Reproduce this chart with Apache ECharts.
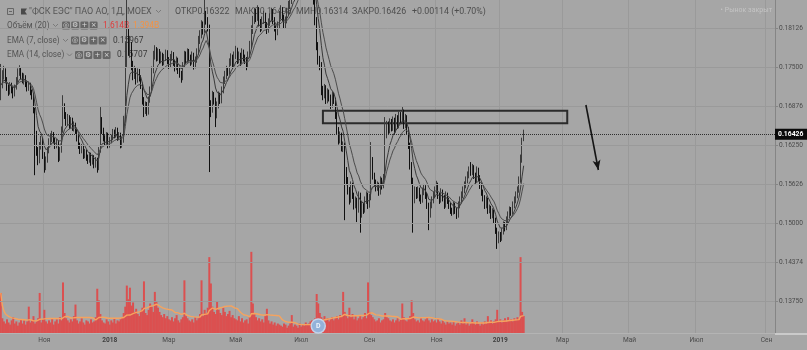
<!DOCTYPE html>
<html><head><meta charset="utf-8">
<script src="https://cdn.jsdelivr.net/npm/echarts@6.0.0/dist/echarts.min.js"></script>
<style>html,body{margin:0;padding:0;background:#a6a6a6}#c{width:807px;height:350px}</style>
</head><body><div id="c"></div><script>
// [open, close, low, high]
const candles = [
[.1705,.1721,.1697,.1755],[.1721,.1737,.1716,.1745],[.1737,.1742,.1730,.1752],[.1742,.1729,.1724,.1748],[.1729,.1717,.1712,.1734],
[.1717,.1710,.1704,.1722],[.1710,.1720,.1706,.1726],[.1720,.1713,.1708,.1725],[.1713,.1707,.1700,.1718],[.1707,.1717,.1703,.1722],
[.1717,.1729,.1714,.1734],[.1729,.1742,.1725,.1748],[.1742,.1745,.1736,.1753],[.1745,.1736,.1731,.1750],[.1736,.1729,.1724,.1741],
[.1729,.1733,.1722,.1740],[.1733,.1723,.1718,.1737],[.1723,.1717,.1711,.1728],[.1717,.1721,.1712,.1727],[.1721,.1710,.1705,.1725],
[.1710,.1704,.1698,.1714],[.1704,.1681,.1676,.1708],[.1681,.1641,.1577,.1685],[.1641,.1617,.1608,.1648],[.1617,.1601,.1593,.1622],
[.1601,.1625,.1596,.1630],[.1625,.1633,.1618,.1640],[.1633,.1609,.1603,.1637],[.1609,.1589,.1581,.1614],[.1589,.1601,.1585,.1607],
[.1601,.1617,.1597,.1622],[.1617,.1630,.1612,.1636],[.1630,.1637,.1624,.1644],[.1637,.1641,.1630,.1648],[.1641,.1633,.1628,.1646],
[.1633,.1625,.1619,.1637],[.1625,.1630,.1620,.1635],[.1630,.1605,.1598,.1633],[.1605,.1617,.1600,.1622],[.1617,.1649,.1613,.1655],
[.1649,.1685,.1645,.1705],[.1685,.1673,.1667,.1692],[.1673,.1662,.1656,.1678],[.1662,.1669,.1657,.1675],[.1669,.1657,.1651,.1673],
[.1657,.1665,.1652,.1670],[.1665,.1653,.1648,.1669],[.1653,.1657,.1647,.1663],[.1657,.1649,.1643,.1661],[.1649,.1637,.1631,.1653],
[.1637,.1625,.1619,.1641],[.1625,.1617,.1611,.1629],[.1617,.1621,.1612,.1627],[.1621,.1609,.1603,.1625],[.1609,.1614,.1604,.1619],
[.1614,.1605,.1600,.1618],[.1605,.1601,.1595,.1610],[.1601,.1609,.1597,.1614],[.1609,.1598,.1592,.1613],[.1598,.1605,.1594,.1610],
[.1605,.1593,.1588,.1609],[.1593,.1601,.1589,.1606],[.1601,.1589,.1581,.1605],[.1589,.1617,.1585,.1622],[.1617,.1665,.1613,.1686],
[.1665,.1649,.1643,.1670],[.1649,.1637,.1631,.1653],[.1637,.1630,.1624,.1641],[.1630,.1641,.1626,.1646],[.1641,.1625,.1620,.1645],
[.1625,.1633,.1621,.1638],[.1633,.1637,.1628,.1642],[.1637,.1646,.1633,.1651],[.1646,.1641,.1636,.1650],[.1641,.1649,.1637,.1654],
[.1649,.1637,.1632,.1653],[.1637,.1641,.1633,.1646],[.1641,.1625,.1620,.1645],[.1625,.1633,.1621,.1638],[.1633,.1665,.1629,.1672],
[.1665,.1761,.1661,.1790],[.1761,.1801,.1750,.1865],[.1801,.1777,.1768,.1812],[.1777,.1785,.1765,.1800],[.1785,.1753,.1745,.1790],
[.1753,.1737,.1729,.1760],[.1737,.1745,.1731,.1752],[.1745,.1729,.1722,.1750],[.1729,.1742,.1725,.1748],[.1742,.1733,.1727,.1747],
[.1733,.1721,.1715,.1737],[.1721,.1697,.1690,.1725],[.1697,.1681,.1670,.1702],[.1681,.1689,.1675,.1695],[.1689,.1678,.1672,.1694],
[.1678,.1697,.1674,.1703],[.1697,.1713,.1693,.1719],[.1713,.1745,.1709,.1751],[.1745,.1769,.1740,.1776],[.1769,.1777,.1762,.1785],
[.1777,.1765,.1759,.1782],[.1765,.1774,.1760,.1780],[.1774,.1761,.1755,.1779],[.1761,.1769,.1756,.1775],[.1769,.1758,.1752,.1773],
[.1758,.1765,.1753,.1771],[.1765,.1772,.1760,.1778],[.1772,.1761,.1755,.1777],[.1761,.1753,.1747,.1766],[.1753,.1766,.1749,.1771],
[.1766,.1769,.1760,.1776],[.1769,.1758,.1752,.1774],[.1758,.1749,.1743,.1762],[.1749,.1761,.1745,.1767],[.1761,.1745,.1739,.1765],
[.1745,.1739,.1733,.1750],[.1739,.1733,.1725,.1744],[.1733,.1753,.1729,.1758],[.1753,.1769,.1749,.1776],[.1769,.1761,.1755,.1775],
[.1761,.1774,.1757,.1780],[.1774,.1765,.1759,.1779],[.1765,.1758,.1752,.1770],[.1758,.1769,.1754,.1775],[.1769,.1752,.1746,.1773],
[.1752,.1761,.1748,.1767],[.1761,.1774,.1757,.1780],[.1774,.1793,.1770,.1800],[.1793,.1801,.1787,.1809],[.1801,.1817,.1796,.1825],
[.1817,.1809,.1802,.1823],[.1809,.1833,.1805,.1861],[.1833,.1825,.1818,.1840],[.1825,.1813,.1807,.1830],[.1813,.1689,.1582,.1818],
[.1689,.1681,.1670,.1697],[.1681,.1705,.1677,.1712],[.1705,.1697,.1690,.1710],[.1697,.1673,.1654,.1701],[.1673,.1689,.1668,.1695],
[.1689,.1705,.1684,.1711],[.1705,.1697,.1691,.1709],[.1697,.1713,.1692,.1719],[.1713,.1729,.1708,.1735],[.1729,.1737,.1723,.1744],
[.1737,.1745,.1731,.1752],[.1745,.1742,.1736,.1750],[.1742,.1758,.1738,.1764],[.1758,.1765,.1752,.1772],[.1765,.1753,.1747,.1770],
[.1753,.1769,.1749,.1775],[.1769,.1777,.1763,.1784],[.1777,.1761,.1755,.1781],[.1761,.1769,.1756,.1775],[.1769,.1758,.1752,.1773],
[.1758,.1774,.1754,.1780],[.1774,.1765,.1759,.1778],[.1765,.1761,.1755,.1770],[.1761,.1753,.1745,.1766],[.1753,.1769,.1749,.1775],
[.1769,.1785,.1765,.1792],[.1785,.1809,.1780,.1817],[.1809,.1825,.1803,.1832],[.1825,.1838,.1819,.1845],[.1838,.1829,.1822,.1843],
[.1829,.1841,.1824,.1849],[.1841,.1822,.1815,.1846],[.1822,.1813,.1806,.1827],[.1813,.1825,.1808,.1831],[.1825,.1833,.1819,.1840],
[.1833,.1817,.1811,.1837],[.1817,.1809,.1803,.1822],[.1809,.1822,.1805,.1828],[.1822,.1829,.1816,.1836],[.1829,.1838,.1823,.1845],
[.1838,.1825,.1819,.1843],[.1825,.1813,.1807,.1830],[.1813,.1806,.1793,.1818],[.1806,.1817,.1801,.1823],[.1817,.1833,.1812,.1840],
[.1833,.1841,.1827,.1849],[.1841,.1829,.1823,.1846],[.1829,.1817,.1811,.1834],[.1817,.1825,.1812,.1831],[.1825,.1838,.1820,.1845],
[.1838,.1849,.1833,.1856],[.1849,.1857,.1843,.1865],[.1857,.1865,.1851,.1872],[.1865,.1877,.1859,.1884],[.1877,.1870,.1863,.1882],
[.1870,.1886,.1865,.1893],[.1886,.1897,.1880,.1905],[.1897,.1889,.1882,.1902],[.1889,.1905,.1884,.1912],[.1905,.1913,.1899,.1921],
[.1913,.1902,.1895,.1918],[.1902,.1918,.1897,.1926],[.1918,.1909,.1902,.1923],[.1909,.1897,.1890,.1914],[.1897,.1905,.1891,.1911],
[.1905,.1881,.1874,.1909],[.1881,.1857,.1850,.1886],[.1857,.1825,.1817,.1862],[.1825,.1785,.1777,.1830],[.1785,.1761,.1754,.1790],
[.1761,.1753,.1745,.1768],[.1753,.1713,.1705,.1758],[.1713,.1705,.1697,.1720],[.1705,.1717,.1700,.1723],[.1717,.1697,.1691,.1721],
[.1697,.1710,.1692,.1716],[.1710,.1701,.1695,.1714],[.1701,.1689,.1683,.1706],[.1689,.1705,.1685,.1711],[.1705,.1697,.1691,.1709],
[.1697,.1673,.1667,.1701],[.1673,.1649,.1643,.1678],[.1649,.1633,.1626,.1654],[.1633,.1641,.1628,.1647],[.1641,.1621,.1615,.1645],
[.1621,.1625,.1614,.1631],[.1625,.1585,.1505,.1629],[.1585,.1569,.1561,.1590],[.1569,.1553,.1546,.1574],[.1553,.1537,.1530,.1558],
[.1537,.1561,.1533,.1567],[.1561,.1545,.1539,.1565],[.1545,.1529,.1522,.1549],[.1529,.1537,.1524,.1543],[.1537,.1521,.1502,.1541],
[.1521,.1545,.1517,.1551],[.1545,.1513,.1485,.1549],[.1513,.1529,.1509,.1535],[.1529,.1521,.1515,.1533],[.1521,.1537,.1517,.1543],
[.1537,.1545,.1531,.1551],[.1545,.1529,.1523,.1549],[.1529,.1541,.1525,.1547],[.1541,.1601,.1537,.1630],[.1601,.1577,.1570,.1606],
[.1577,.1566,.1560,.1581],[.1566,.1557,.1551,.1570],[.1557,.1561,.1552,.1567],[.1561,.1550,.1544,.1565],[.1550,.1569,.1546,.1575],
[.1569,.1560,.1554,.1573],[.1560,.1573,.1556,.1579],[.1573,.1641,.1569,.1670],[.1641,.1657,.1636,.1664],[.1657,.1649,.1643,.1663],
[.1649,.1662,.1644,.1668],[.1662,.1653,.1647,.1667],[.1653,.1665,.1648,.1671],[.1665,.1649,.1643,.1669],[.1649,.1669,.1645,.1675],
[.1669,.1657,.1651,.1673],[.1657,.1673,.1652,.1679],[.1673,.1665,.1659,.1678],[.1665,.1678,.1660,.1686],[.1678,.1657,.1651,.1682],
[.1657,.1669,.1652,.1675],[.1669,.1649,.1643,.1673],[.1649,.1625,.1619,.1654],[.1625,.1593,.1586,.1629],[.1593,.1569,.1562,.1598],
[.1569,.1537,.1485,.1573],[.1537,.1553,.1532,.1559],[.1553,.1545,.1539,.1558],[.1545,.1553,.1540,.1559],[.1553,.1541,.1535,.1557],
[.1541,.1537,.1531,.1546],[.1537,.1550,.1533,.1556],[.1550,.1557,.1545,.1563],[.1557,.1545,.1539,.1561],[.1545,.1529,.1523,.1549],
[.1529,.1513,.1489,.1533],[.1513,.1529,.1509,.1535],[.1529,.1537,.1524,.1543],[.1537,.1545,.1532,.1551],[.1545,.1553,.1540,.1559],
[.1553,.1561,.1548,.1568],[.1561,.1545,.1539,.1565],[.1545,.1537,.1531,.1549],[.1537,.1550,.1533,.1556],[.1550,.1541,.1535,.1554],
[.1541,.1529,.1523,.1545],[.1529,.1545,.1525,.1551],[.1545,.1537,.1531,.1549],[.1537,.1529,.1523,.1541],[.1529,.1521,.1515,.1533],
[.1521,.1518,.1512,.1525],[.1518,.1529,.1514,.1535],[.1529,.1521,.1515,.1533],[.1521,.1513,.1507,.1525],[.1513,.1529,.1509,.1535],
[.1529,.1537,.1524,.1543],[.1537,.1545,.1532,.1551],[.1545,.1553,.1540,.1559],[.1553,.1561,.1548,.1567],[.1561,.1569,.1556,.1575],
[.1569,.1577,.1564,.1583],[.1577,.1585,.1572,.1591],[.1585,.1582,.1576,.1598],[.1582,.1589,.1577,.1595],[.1589,.1577,.1571,.1593],
[.1577,.1569,.1563,.1581],[.1569,.1585,.1565,.1591],[.1585,.1573,.1567,.1589],[.1573,.1561,.1555,.1577],[.1561,.1550,.1544,.1565],
[.1550,.1541,.1535,.1554],[.1541,.1529,.1523,.1545],[.1529,.1537,.1524,.1543],[.1537,.1521,.1515,.1541],[.1521,.1524,.1516,.1530],
[.1524,.1513,.1507,.1528],[.1513,.1518,.1508,.1524],[.1518,.1505,.1499,.1522],[.1505,.1489,.1483,.1509],[.1489,.1473,.1459,.1493],
[.1473,.1481,.1468,.1487],[.1481,.1476,.1470,.1486],[.1476,.1486,.1472,.1492],[.1486,.1497,.1482,.1503],[.1497,.1493,.1487,.1502],
[.1493,.1505,.1489,.1511],[.1505,.1513,.1500,.1519],[.1513,.1521,.1508,.1527],[.1521,.1518,.1512,.1526],[.1518,.1529,.1514,.1535],
[.1529,.1537,.1524,.1543],[.1537,.1545,.1532,.1551],[.1545,.1553,.1540,.1559],[.1553,.1569,.1549,.1575],[.1569,.1601,.1565,.1610],
[.1601,.16312,.1597,.1637],[.16322,.16426,.16314,.16498]
];
// volume, millions
const volumes = [
3800,1400,1100,900,1300,1000,800,1200,1500,900,1100,700,1000,1300,900,1200,800,1100,2500,1000,
1200,1600,900,1100,1400,3800,1000,1300,2200,1100,900,1200,1000,1400,800,1100,1300,900,1500,1200,
4800,1900,1400,1200,1000,1300,1100,1600,2700,1200,900,1100,1400,1000,800,1200,1100,900,1300,1000,
1100,1500,4200,3100,1800,1200,1000,900,1300,1100,800,1200,1000,1400,900,1200,1100,1300,1500,1900,
2500,4500,3200,4300,2600,2900,2000,2300,1800,1600,2100,2400,4900,1900,1700,2200,2800,2500,2000,3900,
3000,2400,2000,1700,1500,1800,1400,1600,1300,1200,1500,1100,1400,1700,1200,1000,1300,1500,5000,1600,
1400,1200,1100,1300,1000,1500,1200,1400,1800,5000,1600,2200,1900,2400,7200,4700,2500,2000,1800,3000,
2200,1900,1700,2400,2000,1600,1800,2100,1500,1700,1400,1300,1200,1600,1100,1400,1000,1200,1300,900,
1500,7700,2800,1800,1500,1200,1400,1100,1300,1000,1600,2300,1200,900,1100,800,1000,700,900,800,
700,600,900,800,500,700,900,1700,600,800,700,500,900,600,800,700,1000,800,900,1100,
1200,1000,1400,3700,2800,1900,1500,1300,1600,1200,1400,1100,1300,1500,1200,1400,1600,1300,1700,1500,
3900,2000,1600,1400,2400,1500,1800,1300,1600,1200,1400,1700,1300,1500,1900,1400,4800,2000,1700,1500,
1300,1100,1200,1400,1000,1200,1300,1900,1500,1400,1200,1100,1300,1000,1200,1400,1100,1300,2800,1500,
1200,1100,1400,1600,3100,1900,1300,1100,1200,1000,1400,1200,1100,1300,1500,1200,1000,1300,1100,1200,
1000,1300,1100,900,1200,1000,800,1100,900,1000,800,1100,700,900,1000,800,1200,900,1400,800,
1000,700,900,1300,1000,800,1100,900,700,1000,800,1100,900,1600,1000,1200,900,1100,1300,2200,
1100,1300,1000,1200,1400,1100,1500,1200,1300,1100,1400,1200,1500,1300,7200,2000,1614
];
const totalSlots = 498;
const monthTickIndex = [28,70,108,151,193,237,280,321,361,404,447,492];
const monthTickLabel = ['Ноя','2018','Мар','Май','Июл','Сен','Ноя','2019','Мар','Май','Июл','Сен'];
const priceTickLabels = ['0.13750','0.14374','0.15000','0.15626','0.16250','0.16876','0.17500','0.18126'];
const lastPriceLabel = '0.16426';
const zoneBox = [207, 364, 0.16802, 0.16601];
const arrowPoints = [[376, 0.16893], [384, 0.15853]];
const dividendIndex = 204;
const headerTitle = '"ФСК ЕЭС" ПАО АО, 1Д, MOEX';
const headerOHLC = ['ОТКР0.16322', 'МАКС0.16498', 'МИН0.16314', 'ЗАКР0.16426', '+0.00114 (+0.70%)'];
const legendNames = ['Объём (20)', 'EMA (7, close)', 'EMA (14, close)'];
const legendValues = [['1.614B', '1.394B'], ['0.15967'], ['0.15707']];
const marketStatus = '• Рынок закрыт';

const FONT = 'Roboto, "Liberation Sans", sans-serif';
const closes = candles.map(c => c[1]);
function ema(vals, n) {
  const k = 2 / (n + 1); let prev = null;
  return vals.map(v => { prev = prev === null ? v : v * k + prev * (1 - k); return +prev.toFixed(5); });
}
function sma(vals, n) {
  return vals.map((v, i) => { const s = Math.max(0, i - n + 1); let sum = 0; for (let j = s; j <= i; j++) sum += vals[j]; return Math.round(sum / (i - s + 1)); });
}
const ema7 = ema(closes, 7), ema14 = ema(closes, 14), volMA = sma(volumes, 20);
const tickSet = new Set(monthTickIndex);
const priceTicks = priceTickLabels.map(Number);
const cats = Array.from({length: totalSlots}, (_, i) => String(i));

// header graphics
const g = [];
function txt(x, y, text, fill, size) {
  g.push({type: 'text', x, y, z: 1, style: {text, fill, font: size + 'px ' + FONT, verticalAlign: 'middle', align: 'left'}});
}
function chevron(x, y) {
  g.push({type: 'polyline', z: 1, shape: {points: [[x, y - 1.5], [x + 2.5, y + 1], [x + 5, y - 1.5]]}, style: {stroke: '#7a7a7a', lineWidth: 1, fill: null}});
}
function icons(x0, y) {
  const sym = ['◎', '⚙', '+', '×'];
  for (let k = 0; k < 4; k++) {
    const x = x0 + k * 9.2;
    g.push({type: 'rect', z: 1, shape: {x: x, y: y - 4, width: 8, height: 8, r: 1.2}, style: {fill: '#666666'}});
    g.push({type: 'text', z: 1, x: x + 4, y: y, style: {text: sym[k], fill: '#dcdcdc', font: '7px "DejaVu Sans"', align: 'center', verticalAlign: 'middle'}});
  }
}
g.push({type: 'rect', z: 1, shape: {x: 7.5, y: 8.5, width: 6, height: 6}, style: {stroke: '#666', fill: null, lineWidth: 1}});
g.push({type: 'line', z: 1, shape: {x1: 9, y1: 11.5, x2: 12, y2: 11.5}, style: {stroke: '#666', lineWidth: 1}});
g.push({type: 'polygon', z: 1, shape: {points: [[21, 8.5], [27, 8.5], [25, 11.5], [27, 14.5], [21, 14.5]]}, style: {fill: '#4a4a4a'}});
txt(29, 11.8, headerTitle, '#555555', 9);
chevron(156, 11.5);
const ohlcX = [175, 235, 296, 352, 412];
headerOHLC.forEach((t, i) => txt(ohlcX[i], 11.8, t, '#4e4e4e', 8.8));
const rowY = [25.5, 40.5, 55];
const chevX = [53, 63, 67];
const iconX = [62, 71, 75];
const valX = [[103, 133], [113], [117]];
const valColor = [['#e03a3a', '#f39243'], ['#3a3a3a'], ['#3a3a3a']];
legendNames.forEach((n, r) => {
  txt(7, rowY[r], n, '#555555', 8.2);
  chevron(chevX[r], rowY[r]);
  icons(iconX[r], rowY[r]);
  legendValues[r].forEach((v, j) => txt(valX[r][j], rowY[r], v, valColor[r][j], 8.4));
});
g.push({type: 'text', z: 1, x: 772, y: 10, style: {text: marketStatus, fill: '#c4c4c4', font: '7px ' + FONT, align: 'right', verticalAlign: 'middle'}});
g.push({type: 'line', z: 1, shape: {x1: 775, y1: 334, x2: 807, y2: 334}, style: {stroke: '#d6d6d6', lineWidth: 1.5}});

const chart = echarts.init(document.getElementById('c'));
chart.setOption({
  animation: false,
  backgroundColor: '#a6a6a6',
  grid: {left: 0, top: 0, width: 775, height: 333},
  xAxis: {
    type: 'category', data: cats, boundaryGap: true,
    axisLine: {show: true, lineStyle: {color: '#b4b4b4'}},
    axisTick: {show: false},
    axisLabel: {
      interval: (i) => tickSet.has(i),
      formatter: (v) => { const k = monthTickIndex.indexOf(Number(v)); if (k < 0) return ''; const t = monthTickLabel[k]; return /^\d+$/.test(t) ? '{y|' + t + '}' : t; },
      color: '#4a4a4a', fontSize: 6.6, fontFamily: FONT, margin: 4,
      rich: {y: {fontWeight: 'bold', color: '#404040', fontSize: 6.6, fontFamily: FONT}}
    },
    splitLine: {show: true, interval: (i) => tickSet.has(i), lineStyle: {color: '#9a9a9a', width: 1}}
  },
  yAxis: [
    {type: 'value', position: 'right', min: 0.13244, max: 0.18574, scale: true,
     splitLine: {show: false},
     axisLine: {show: true, lineStyle: {color: '#858585'}},
     axisTick: {show: true, customValues: priceTicks, length: 3, lineStyle: {color: '#858585'}},
     axisLabel: {customValues: priceTicks, formatter: (v) => { const i = priceTicks.findIndex(t => Math.abs(t - v) < 1e-6); return i >= 0 ? priceTickLabels[i] : ''; },
       color: '#4a4a4a', fontSize: 6.6, fontFamily: FONT, margin: 4}},
    {type: 'value', min: 0, max: 31600, show: false}
  ],
  series: [
    {type: 'line', name: 'grid', data: [], z: 0, silent: true,
     markLine: {silent: true, precision: 6, symbol: ['none', 'none'], label: {show: false}, lineStyle: {color: '#9a9a9a', width: 1, type: 'solid'},
       data: priceTicks.map(v => ({yAxis: v}))}},
    {type: 'bar', name: 'vol', xAxisIndex: 0, yAxisIndex: 1, data: volumes, barWidth: 2, z: 1,
     itemStyle: {color: '#db5050'},
     markPoint: {silent: true, data: [{coord: [String(dividendIndex), 0], symbol: 'circle', symbolSize: 14, symbolOffset: [0, -7],
       itemStyle: {color: '#93b2d9', borderColor: '#c2d3ea', borderWidth: 1.5},
       label: {show: true, formatter: 'D', color: '#eef3fa', fontSize: 7, fontWeight: 'bold', fontFamily: FONT}}]}},
    {type: 'line', name: 'volMA', xAxisIndex: 0, yAxisIndex: 1, data: volMA, showSymbol: false, z: 2,
     lineStyle: {color: '#f6a35e', width: 1.4}},
    {type: 'candlestick', name: 'price', data: candles, z: 3, barWidth: '55%',
     itemStyle: {color: '#737373', color0: '#101010', borderColor: '#3c3c3c', borderColor0: '#101010', borderWidth: 1},
     markArea: {silent: true, itemStyle: {color: 'rgba(0,0,0,0)', borderColor: '#2b2b2b', borderWidth: 2},
       data: [[{xAxis: String(zoneBox[0]), yAxis: zoneBox[2]}, {xAxis: String(zoneBox[1]), yAxis: zoneBox[3]}]]}},
    {type: 'line', name: 'EMA7', data: ema7, showSymbol: false, z: 4, lineStyle: {color: '#3a3a3a', width: 1}},
    {type: 'line', name: 'EMA14', data: ema14, showSymbol: false, z: 4, lineStyle: {color: '#4c4c4c', width: 1}},
    {type: 'line', name: 'last', data: [], z: 5, silent: true,
     markLine: {silent: true, precision: 6, symbol: ['none', 'none'],
       data: [{yAxis: Number(lastPriceLabel), lineStyle: {type: 'dotted', color: '#2e2e2e', width: 1},
         label: {show: true, position: 'end', formatter: lastPriceLabel, backgroundColor: '#0a0a0a', color: '#ffffff',
           fontSize: 6.8, fontWeight: 'bold', fontFamily: FONT, padding: [2, 4, 2, 3], distance: 0}}]}},
    {type: 'line', name: 'arrow', data: [], z: 5, silent: true,
     markLine: {silent: true, precision: 6, symbol: ['none', 'arrow'], symbolSize: [6, 10], label: {show: false},
       lineStyle: {color: '#151515', width: 1.6, type: 'solid'},
       data: [[{coord: [String(arrowPoints[0][0]), arrowPoints[0][1]]}, {coord: [String(arrowPoints[1][0]), arrowPoints[1][1]]}]]}}
  ],
  graphic: g
});
</script></body></html>
